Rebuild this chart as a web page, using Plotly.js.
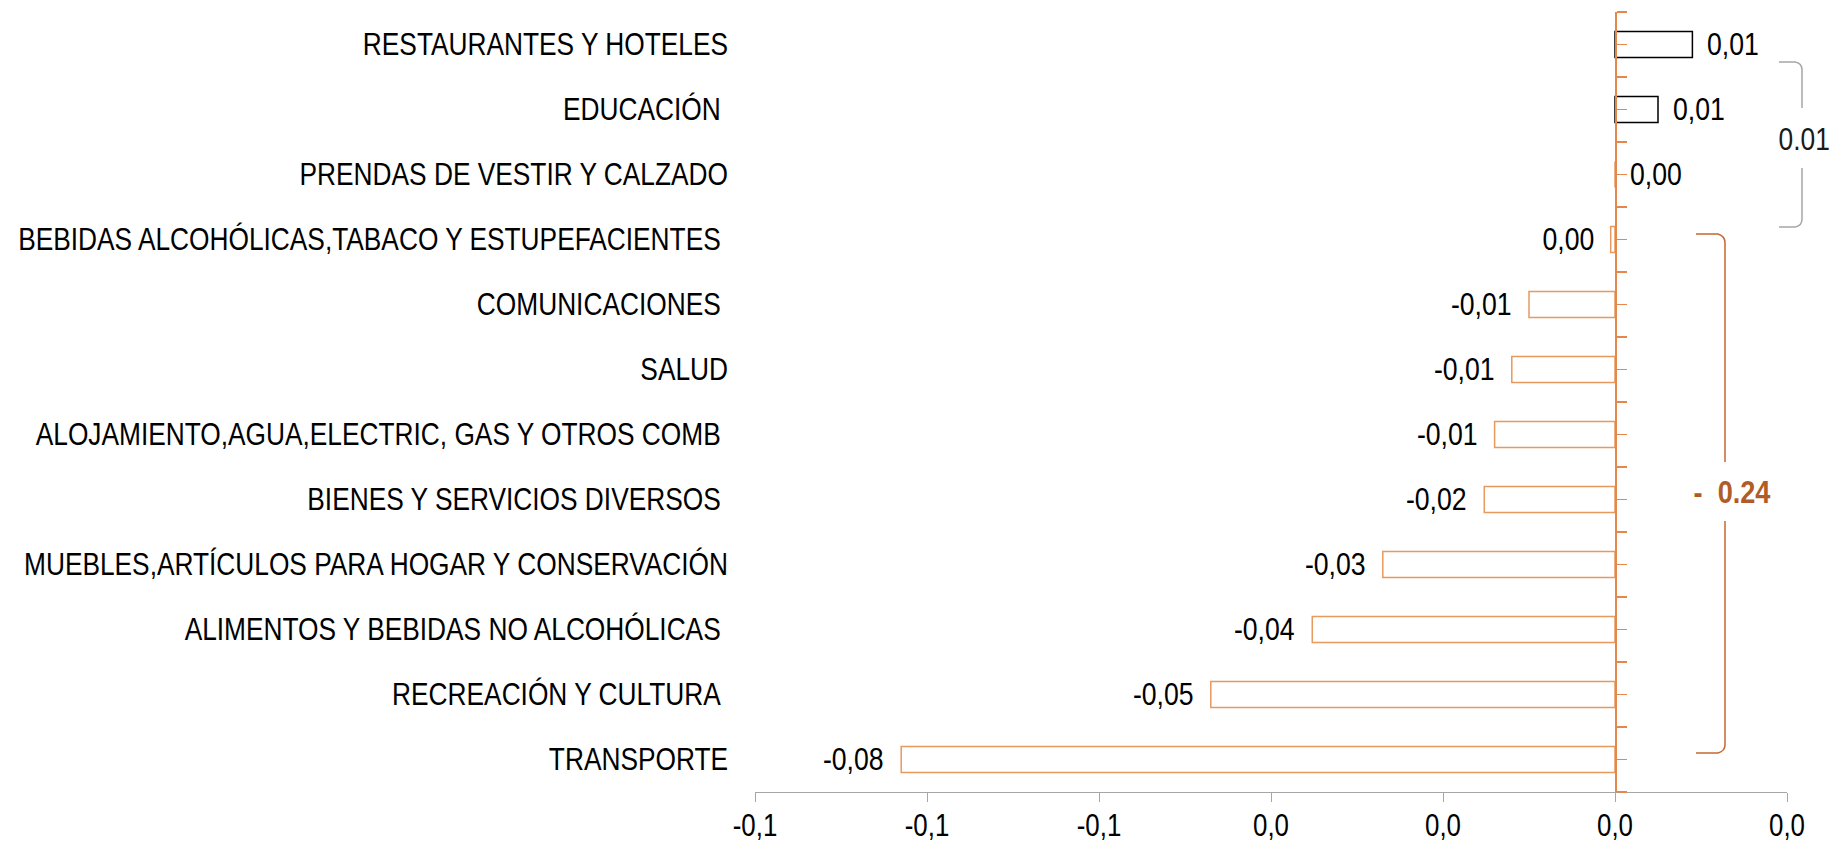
<!DOCTYPE html>
<html>
<head>
<meta charset="utf-8">
<script src="https://cdn.plot.ly/plotly-3.0.1.min.js"></script>
<style>
  html, body { margin: 0; padding: 0; background: #ffffff; }
  #chart { width: 1845px; height: 847px; }
</style>
</head>
<body>
<div id="chart"></div>
<script>
// ---- data (top to bottom) ----
const categories = [
  "RESTAURANTES Y HOTELES",
  "EDUCACIÓN\u00a0",
  "PRENDAS DE VESTIR Y CALZADO",
  "BEBIDAS ALCOHÓLICAS,TABACO Y ESTUPEFACIENTES\u00a0",
  "COMUNICACIONES\u00a0",
  "SALUD",
  "ALOJAMIENTO,AGUA,ELECTRIC, GAS Y OTROS COMB\u00a0",
  "BIENES Y SERVICIOS DIVERSOS\u00a0",
  "MUEBLES,ARTÍCULOS PARA HOGAR Y CONSERVACIÓN",
  "ALIMENTOS Y BEBIDAS NO ALCOHÓLICAS\u00a0",
  "RECREACIÓN Y CULTURA\u00a0",
  "TRANSPORTE"
];
const values = [0.009, 0.005, 0.0, -0.0005, -0.0100, -0.0120, -0.0140, -0.0152, -0.0270, -0.0352, -0.0470, -0.0830];

const xTickVals = [-0.10, -0.08, -0.06, -0.04, -0.02, 0.00, 0.02];
const xTickText = ["-0,1", "-0,1", "-0,1", "0,0", "0,0", "0,0", "0,0"];
const xRange = [-0.10, 0.02];

const groupPositiveText = "0.01";
const groupNegativeText = "-\u00a0\u00a00.24";

// ---- style ----
const FONT = "'Liberation Sans Narrow', 'Arial Narrow', 'Liberation Sans', Arial, sans-serif";
const ORANGE_BAR = "#E8995E";
const ORANGE_AXIS = "#E3884A";
const ORANGE_BRACKET = "#C4682E";
const BROWN_TEXT = "#B15C28";
const GREY = "#A6A6A6";

function fmt(v) {
  let s = v.toFixed(2).replace('.', ',');
  if (s === "-0,00") s = "0,00";
  return s;
}

const barTrace = {
  type: 'bar',
  orientation: 'h',
  x: values,
  y: categories,
  width: 0.4,
  marker: {
    color: 'rgba(255,255,255,1)',
    line: { color: values.map(v => v > 0 ? '#000000' : ORANGE_BAR), width: 1.5 }
  },
  hoverinfo: 'x+y',
  showlegend: false
};

// helper trace so the orange zero axis (yaxis2) is drawn
const axisHelper = {
  type: 'scatter', mode: 'markers',
  x: [0], y: [0], yaxis: 'y2',
  marker: { opacity: 0 }, hoverinfo: 'skip', showlegend: false
};

const annotations = values.map((v, i) => ({
  x: v, y: categories[i], xref: 'x', yref: 'y',
  text: fmt(v), showarrow: false,
  xanchor: v < 0 ? 'right' : 'left',
  xshift: v < 0 ? -15 : 13,
  font: { family: FONT, size: 31, color: '#000000' }
}));

// plot area pixel frame (for bracket decorations)
const M = { l: 755, r: 58, t: 12, b: 55 };
const W = 1845, H = 847;
const pw = W - M.l - M.r, ph = H - M.t - M.b;
const px = x => (x - M.l) / pw;
const py = y => (H - M.b - y) / ph;
function pathFrom(cmds) {
  return cmds.map(c => c[0] + ' ' + c.slice(1).map((v, k) =>
    (k % 2 === 0 ? px(v) : py(v)).toFixed(5)).join(' ')).join(' ');
}

const greyBracket = pathFrom([
  ['M', 1779, 62], ['L', 1795, 62], ['Q', 1802, 63, 1802, 70], ['L', 1802, 108],
  ['M', 1802, 168], ['L', 1802, 219], ['Q', 1802, 226, 1795, 227], ['L', 1779, 227]
]);
const orangeBracket = pathFrom([
  ['M', 1696, 234], ['L', 1718, 234], ['Q', 1725, 236, 1725, 243], ['L', 1725, 462],
  ['M', 1725, 521], ['L', 1725, 745], ['Q', 1725, 751, 1718, 753], ['L', 1696, 753]
]);

annotations.push({
  xref: 'paper', yref: 'paper', x: px(1804), y: py(139),
  text: groupPositiveText, showarrow: false, xanchor: 'center', yanchor: 'middle',
  font: { family: FONT, size: 31, color: '#1a1a1a' }
});
annotations.push({
  xref: 'paper', yref: 'paper', x: px(1732), y: py(492),
  text: '<b>' + groupNegativeText + '</b>', showarrow: false, xanchor: 'center', yanchor: 'middle',
  font: { family: FONT, size: 31, color: BROWN_TEXT }
});
const nData = values.length;

const layout = {
  width: W, height: H,
  margin: M,
  paper_bgcolor: '#ffffff',
  plot_bgcolor: 'rgba(0,0,0,0)',
  showlegend: false,
  font: { family: FONT, size: 31, color: '#000000' },
  xaxis: {
    range: xRange,
    tickmode: 'array', tickvals: xTickVals, ticktext: xTickText,
    ticks: 'outside', ticklen: 9, tickwidth: 1, tickcolor: GREY,
    showline: true, linecolor: GREY, linewidth: 1,
    showgrid: false, zeroline: false,
    ticklabelstandoff: -3,
    tickfont: { family: FONT, size: 31, color: '#000000' },
    fixedrange: true
  },
  yaxis: {
    type: 'category', categoryorder: 'array', categoryarray: categories,
    range: [categories.length - 0.5, -0.5],
    showline: false, ticks: '', showgrid: false, zeroline: false,
    ticklabelstandoff: 26,
    tickfont: { family: FONT, size: 31, color: '#000000' },
    fixedrange: true
  },
  yaxis2: {
    overlaying: 'y', anchor: 'free',
    position: (0 - xRange[0]) / (xRange[1] - xRange[0]),
    side: 'right',
    range: [categories.length - 0.5, -0.5],
    tickmode: 'linear', tick0: -0.5, dtick: 0.5,
    ticks: 'outside', ticklen: 10, tickwidth: 1.5, tickcolor: ORANGE_AXIS,
    showline: true, linecolor: ORANGE_AXIS, linewidth: 1.5,
    showticklabels: false, showgrid: false, zeroline: false,
    fixedrange: true
  },
  shapes: [
    { type: 'path', xref: 'paper', yref: 'paper', path: greyBracket,
      line: { color: GREY, width: 1.5 } },
    { type: 'path', xref: 'paper', yref: 'paper', path: orangeBracket,
      line: { color: ORANGE_BRACKET, width: 1.5 } }
  ],
  annotations: annotations
};

// Condense text horizontally (the original uses an Arial-Narrow-like face)
function condense(gd) {
  gd.querySelectorAll('svg text').forEach(t => {
    if (!t.textContent.trim()) return;
    let k = 0.835;
    let origin = t.getAttribute('text-anchor') || 'start';
    if (t.closest('.ytick')) { k = 0.848; origin = 'end'; }
    const ann = t.closest('.annotation');
    if (ann) {
      const idx = +ann.getAttribute('data-index');
      const a = layout.annotations[idx];
      if (a) origin = a.xanchor === 'right' ? 'end' : (a.xanchor === 'left' ? 'start' : 'middle');
      k = idx < nData ? 0.86 : (idx === nData ? 0.85 : 0.875);
    }
    const bb = t.getBBox();
    const cx = origin === 'end' ? bb.x + bb.width : (origin === 'start' ? bb.x : bb.x + bb.width / 2);
    const tr = t.getAttribute('transform') || '';
    t.setAttribute('transform', (tr + ' translate(' + cx + ',0) scale(' + k + ',1) translate(' + (-cx) + ',0)').trim());
  });
}

Plotly.newPlot('chart', [barTrace, axisHelper], layout, { displayModeBar: false, staticPlot: true })
  .then(condense);
</script>
</body>
</html>
